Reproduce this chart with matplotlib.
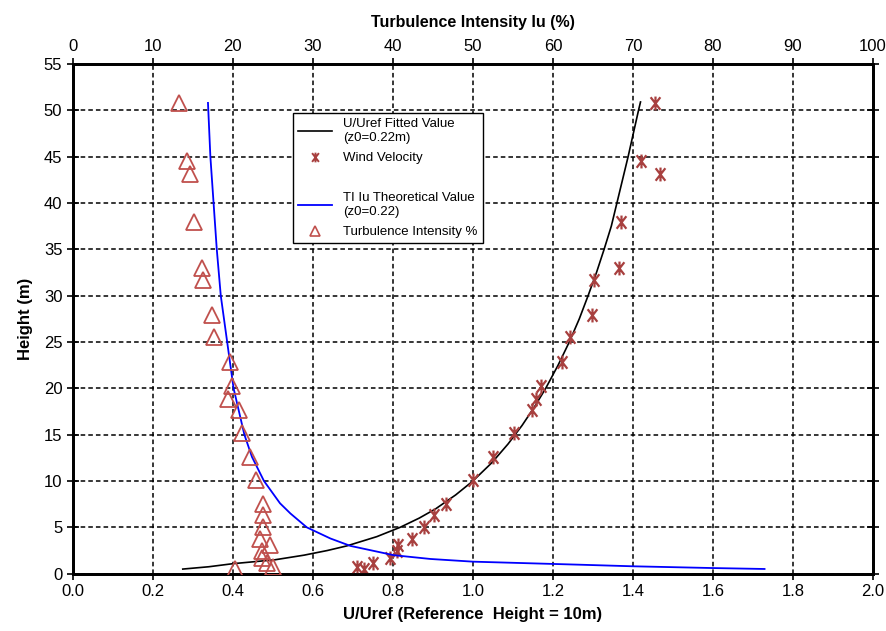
import numpy as np
import matplotlib.pyplot as plt
from matplotlib.lines import Line2D
from matplotlib.path import Path

plt.rcParams['font.family'] = ['Liberation Sans', 'DejaVu Sans']
plt.rcParams['font.size'] = 12

# measured points
height = [50.8, 44.5, 43.1, 38.0, 33.0, 31.7, 27.9, 25.5, 22.8, 20.2, 18.8, 17.7, 15.2,
          12.6, 10.1, 7.5, 6.3, 5.0, 3.7, 3.15, 2.45, 1.7, 1.15, 0.67, 0.5]
wind_u = [1.456, 1.420, 1.467, 1.370, 1.364, 1.302, 1.298, 1.243, 1.223, 1.171, 1.158, 1.147, 1.103,
          1.050, 1.000, 0.932, 0.904, 0.877, 0.848, 0.813, 0.810, 0.792, 0.750, 0.710, 0.727]
turb_pct = [13.3, 14.25, 14.6, 15.1, 16.1, 16.3, 17.4, 17.7, 19.6, 19.9, 19.45, 20.8, 21.1,
            22.2, 22.95, 23.8, 23.8, 23.75, 23.45, 24.6, 23.6, 23.7, 24.25, 25.0, 20.3]

# fitted wind profile
fit_h = [0.5, 0.75, 1.08, 1.5, 2, 2.5, 3, 4, 5, 6, 7, 8.5, 10, 12, 14, 16, 18, 20, 22.5, 25,
         27.5, 30, 32.5, 35, 37.5, 40, 42.5, 45, 47.5, 50, 50.9]
fit_u = [0.275, 0.34, 0.40, 0.505, 0.578, 0.636, 0.685, 0.760, 0.818, 0.866, 0.907, 0.957,
         1.0, 1.048, 1.088, 1.123, 1.154, 1.182, 1.213, 1.241, 1.266, 1.288, 1.309, 1.328,
         1.346, 1.360, 1.374, 1.388, 1.401, 1.414, 1.419]

# theoretical turbulence intensity
ti_h = [50.8, 45, 40, 35, 30, 25, 20, 15, 12.6, 10, 7.6, 6.5, 5, 3.8, 3.0, 2.0, 1.59, 1.3,
        0.97, 0.8, 0.61, 0.51]
ti_pct = [16.9, 17.2, 17.6, 18.0, 18.5, 19.3, 20.1, 21.45, 22.4, 23.9, 25.9, 27.2, 29.25,
          32.2, 34.7, 40.1, 44.7, 50.0, 63.4, 70.0, 80.0, 86.45]

wind_col = '#a8403f'
tri_col = '#c0504d'
# x with a vertical bar through it
star = Path([(-0.7, -0.9), (0.7, 0.9), (-0.7, 0.9), (0.7, -0.9), (0, -1), (0, 1)],
            [Path.MOVETO, Path.LINETO, Path.MOVETO, Path.LINETO, Path.MOVETO, Path.LINETO])

fig = plt.figure(figsize=(8.87, 6.31), dpi=100)
ax = fig.add_axes([0.082, 0.0908, 0.9022, 0.8078])

ax.plot(fit_u, fit_h, color='black', lw=1.2, zorder=3)
ax.plot(wind_u, height, linestyle='none', marker=star, ms=10, mec=wind_col, mfc='none',
        mew=1.6, zorder=4)

ax.set_xlim(0, 2)
ax.set_ylim(0, 55)
ax.set_xticks(np.arange(0, 2.01, 0.2))
ax.set_xticklabels(['%.1f' % v for v in np.arange(0, 2.01, 0.2)])
ax.set_yticks(np.arange(0, 56, 5))
ax.grid(True, color='black', linestyle=(0, (3, 2)), lw=1.1)
ax.set_axisbelow(True)
ax.tick_params(axis='y', direction='inout', length=8, width=1.2, right=True)
ax.tick_params(axis='x', direction='out', length=4, width=1.2)
for s in ax.spines.values():
    s.set_linewidth(2)
ax.set_xlabel('U/Uref (Reference  Height = 10m)', fontweight='bold', labelpad=6)
ax.set_ylabel('Height (m)', fontweight='bold', labelpad=8)

ax2 = ax.twiny()
ax2.plot(ti_pct, ti_h, color='blue', lw=1.3, zorder=3)
ax2.plot(turb_pct, height, linestyle='none', marker='^', ms=11, mfc='none', mec=tri_col,
         mew=1.3, zorder=4)
ax2.set_xlim(0, 100)
ax2.set_xticks(np.arange(0, 101, 10))
ax2.tick_params(axis='x', direction='out', length=4, width=1.2)
ax2.set_xlabel('Turbulence Intensity Iu (%)', fontweight='bold', labelpad=8, fontsize=11.5)
for s in ax2.spines.values():
    s.set_linewidth(2)

handles = [
    Line2D([], [], color='black', lw=1.2),
    Line2D([], [], linestyle='none', marker=star, ms=7, mec=wind_col, mfc='none', mew=1.4),
    Line2D([], [], linestyle='none'),
    Line2D([], [], color='blue', lw=1.3),
    Line2D([], [], linestyle='none', marker='^', ms=7, mfc='none', mec=tri_col, mew=1.2),
]
labels = ['U/Uref Fitted Value\n(z0=0.22m)', 'Wind Velocity', ' ',
          'TI Iu Theoretical Value\n(z0=0.22)', 'Turbulence Intensity %']
leg = ax2.legend(handles, labels, loc='upper left', bbox_to_anchor=(0.275, 0.904),
                 borderaxespad=0, fontsize=9.5, fancybox=False, framealpha=1,
                 edgecolor='black', handlelength=2.6, labelspacing=0.6)
leg.get_frame().set_linewidth(1.0)
leg.set_zorder(10)

fig.savefig('out.png', dpi=100)
